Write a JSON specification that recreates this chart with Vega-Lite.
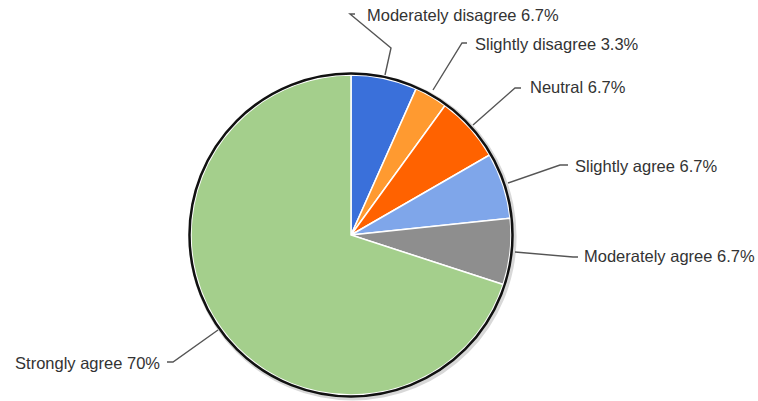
{
  "$schema": "https://vega.github.io/schema/vega-lite/v6.json",
  "width": 758,
  "height": 401,
  "padding": 0,
  "autosize": {"type": "none"},
  "background": "white",
  "config": {"view": {"stroke": null}},
  "resolve": {"scale": {"theta": "independent"}},
  "datasets": {
    "slices": [
      {"label": "Moderately disagree", "value": 2, "ord": 1},
      {"label": "Slightly disagree", "value": 1, "ord": 2},
      {"label": "Neutral", "value": 2, "ord": 3},
      {"label": "Slightly agree", "value": 2, "ord": 4},
      {"label": "Moderately agree", "value": 2, "ord": 5},
      {"label": "Strongly agree", "value": 21, "ord": 6}
    ],
    "leaders": [
      {"label": "Moderately disagree", "pt": 1, "x": 34, "y": 160},
      {"label": "Moderately disagree", "pt": 2, "x": 40, "y": 187},
      {"label": "Moderately disagree", "pt": 3, "x": -1, "y": 221},
      {"label": "Moderately disagree", "pt": 4, "x": 4, "y": 221},
      {"label": "Slightly disagree", "pt": 1, "x": 82, "y": 145},
      {"label": "Slightly disagree", "pt": 2, "x": 111, "y": 192},
      {"label": "Slightly disagree", "pt": 3, "x": 116, "y": 192},
      {"label": "Neutral", "pt": 1, "x": 122, "y": 110},
      {"label": "Neutral", "pt": 2, "x": 164, "y": 147},
      {"label": "Neutral", "pt": 3, "x": 170, "y": 147},
      {"label": "Slightly agree", "pt": 1, "x": 157, "y": 52},
      {"label": "Slightly agree", "pt": 2, "x": 209, "y": 70},
      {"label": "Slightly agree", "pt": 3, "x": 217, "y": 70},
      {"label": "Moderately agree", "pt": 1, "x": 164, "y": -17},
      {"label": "Moderately agree", "pt": 2, "x": 222, "y": -22},
      {"label": "Moderately agree", "pt": 3, "x": 227, "y": -22},
      {"label": "Strongly agree", "pt": 1, "x": -133, "y": -95},
      {"label": "Strongly agree", "pt": 2, "x": -178, "y": -127},
      {"label": "Strongly agree", "pt": 3, "x": -184, "y": -127}
    ],
    "labelsLeft": [
      {"text": "Moderately disagree 6.7%", "x": 16, "y": 219},
      {"text": "Slightly disagree 3.3%", "x": 124, "y": 190},
      {"text": "Neutral 6.7%", "x": 179, "y": 147},
      {"text": "Slightly agree 6.7%", "x": 224, "y": 68},
      {"text": "Moderately agree 6.7%", "x": 233, "y": -22}
    ],
    "labelsRight": [
      {"text": "Strongly agree 70%", "x": -191, "y": -129}
    ],
    "ring": [{"v": 1}]
  },
  "layer": [
    {
      "data": {"name": "ring"},
      "mark": {"type": "arc", "outerRadius": 164, "fill": "#c8c8c8", "opacity": 0.7},
      "encoding": {
        "theta": {"field": "v", "type": "quantitative"},
        "x": {"datum": 1.5, "type": "quantitative", "scale": {"domain": [-351, 407], "nice": false, "zero": false}, "axis": null},
        "y": {"datum": -1.5, "type": "quantitative", "scale": {"domain": [-166, 235], "nice": false, "zero": false}, "axis": null}
      }
    },
    {
      "data": {"name": "slices"},
      "mark": {"type": "arc", "outerRadius": 160, "stroke": "white", "strokeWidth": 1.5},
      "encoding": {
        "theta": {"field": "value", "type": "quantitative", "stack": true},
        "order": {"field": "ord", "type": "quantitative"},
        "color": {
          "field": "label",
          "type": "nominal",
          "scale": {
            "domain": ["Moderately disagree", "Slightly disagree", "Neutral", "Slightly agree", "Moderately agree", "Strongly agree"],
            "range": ["#3a70da", "#ff9a30", "#ff6200", "#7fa6ea", "#8e8e8e", "#a4cf8c"]
          },
          "legend": null
        },
        "x": {"datum": 0, "type": "quantitative", "scale": {"domain": [-351, 407], "nice": false, "zero": false}, "axis": null},
        "y": {"datum": 0, "type": "quantitative", "scale": {"domain": [-166, 235], "nice": false, "zero": false}, "axis": null}
      }
    },
    {
      "data": {"name": "ring"},
      "mark": {"type": "arc", "outerRadius": 161.5, "fillOpacity": 0, "fill": "white", "stroke": "#111111", "strokeWidth": 2.5},
      "encoding": {
        "theta": {"field": "v", "type": "quantitative"},
        "x": {"datum": 0, "type": "quantitative", "scale": {"domain": [-351, 407], "nice": false, "zero": false}, "axis": null},
        "y": {"datum": 0, "type": "quantitative", "scale": {"domain": [-166, 235], "nice": false, "zero": false}, "axis": null}
      }
    },
    {
      "data": {"name": "leaders"},
      "mark": {"type": "line", "color": "#555555", "strokeWidth": 1.4},
      "encoding": {
        "x": {"field": "x", "type": "quantitative", "scale": {"domain": [-351, 407], "nice": false, "zero": false}, "axis": null},
        "y": {"field": "y", "type": "quantitative", "scale": {"domain": [-166, 235], "nice": false, "zero": false}, "axis": null},
        "detail": {"field": "label", "type": "nominal"},
        "order": {"field": "pt", "type": "quantitative"}
      }
    },
    {
      "data": {"name": "labelsLeft"},
      "mark": {"type": "text", "align": "left", "baseline": "middle", "font": "Liberation Sans", "fontSize": 16.5, "fill": "#333333"},
      "encoding": {
        "x": {"field": "x", "type": "quantitative", "scale": {"domain": [-351, 407], "nice": false, "zero": false}, "axis": null},
        "y": {"field": "y", "type": "quantitative", "scale": {"domain": [-166, 235], "nice": false, "zero": false}, "axis": null},
        "text": {"field": "text", "type": "nominal"}
      }
    },
    {
      "data": {"name": "labelsRight"},
      "mark": {"type": "text", "align": "right", "baseline": "middle", "font": "Liberation Sans", "fontSize": 16.5, "fill": "#333333"},
      "encoding": {
        "x": {"field": "x", "type": "quantitative", "scale": {"domain": [-351, 407], "nice": false, "zero": false}, "axis": null},
        "y": {"field": "y", "type": "quantitative", "scale": {"domain": [-166, 235], "nice": false, "zero": false}, "axis": null},
        "text": {"field": "text", "type": "nominal"}
      }
    }
  ]
}
